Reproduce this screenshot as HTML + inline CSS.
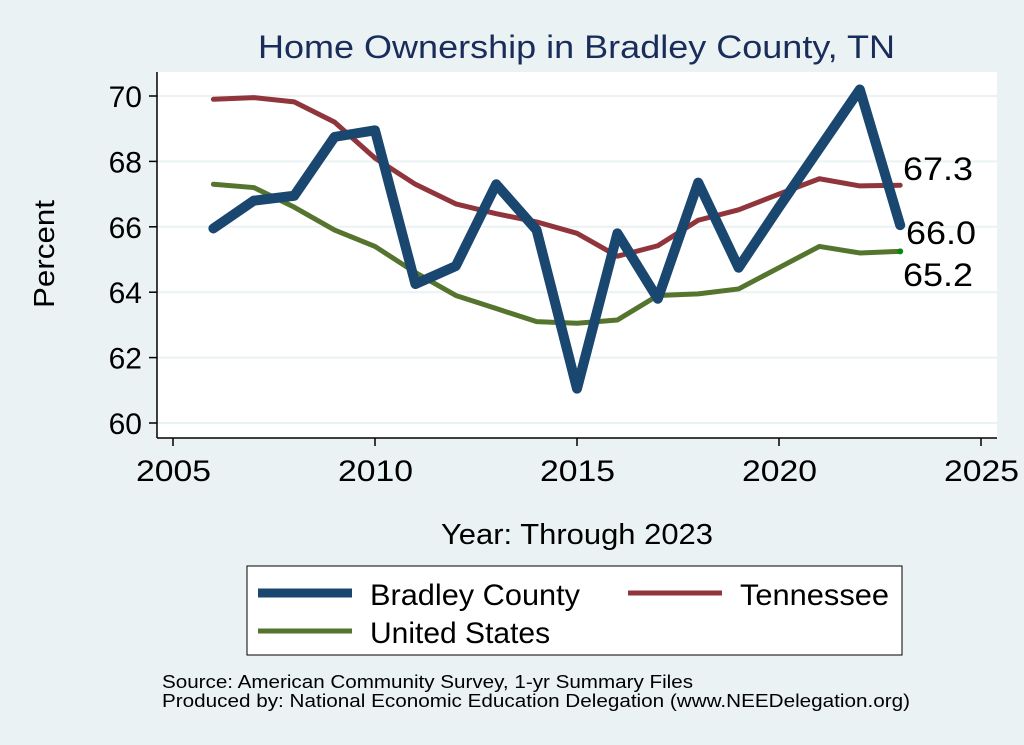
<!DOCTYPE html>
<html><head><meta charset="utf-8"><style>
body{margin:0;background:#eaf2f3;}
svg{display:block;font-family:"Liberation Sans",Arial,sans-serif;}
</style></head><body>
<svg id="s" width="1024" height="745" xmlns="http://www.w3.org/2000/svg">
<rect width="1024" height="745" fill="#eaf2f3"/>
<text x="258" y="58" font-size="32" fill="#1a2d5a" textLength="637" lengthAdjust="spacingAndGlyphs">Home Ownership in Bradley County, TN</text>
<rect x="157" y="72" width="840" height="366" fill="#fff"/>
<g id="grid"></g>
<g id="series"></g>
<line x1="157" y1="72" x2="157" y2="438" stroke="#000" stroke-width="1.5"/>
<line x1="157" y1="438" x2="997" y2="438" stroke="#000" stroke-width="1.5"/>
<text x="903" y="180" font-size="32" textLength="70" lengthAdjust="spacingAndGlyphs">67.3</text>
<text x="906" y="244" font-size="32" textLength="70" lengthAdjust="spacingAndGlyphs">66.0</text>
<text x="903" y="286" font-size="32" textLength="70" lengthAdjust="spacingAndGlyphs">65.2</text>
<text transform="translate(54,254) rotate(-90)" text-anchor="middle" font-size="29" textLength="108" lengthAdjust="spacingAndGlyphs">Percent</text>
<text x="441" y="544" font-size="29" textLength="272" lengthAdjust="spacingAndGlyphs">Year: Through 2023</text>
<rect x="247" y="566" width="655" height="89" fill="#fff" stroke="#000" stroke-width="1"/>
<line x1="258" y1="593" x2="352" y2="593" stroke="#1a476f" stroke-width="9"/>
<line x1="628" y1="593" x2="722" y2="593" stroke="#90353b" stroke-width="5"/>
<line x1="258" y1="631" x2="352" y2="631" stroke="#55752f" stroke-width="5"/>
<text x="370" y="605" font-size="30" textLength="210" lengthAdjust="spacingAndGlyphs">Bradley County</text>
<text x="740" y="605" font-size="30" textLength="149" lengthAdjust="spacingAndGlyphs">Tennessee</text>
<text x="370" y="643" font-size="30">United States</text>
<text x="162" y="688" font-size="18" textLength="531" lengthAdjust="spacingAndGlyphs">Source: American Community Survey, 1-yr Summary Files</text>
<text x="162" y="707" font-size="18" textLength="748" lengthAdjust="spacingAndGlyphs">Produced by: National Economic Education Delegation (www.NEEDelegation.org)</text>
</svg>
<script>
var NS="http://www.w3.org/2000/svg";
function X(y){return 173+(y-2005)*40.4;}
function Y(v){return 96+(70-v)*32.7;}
function el(t,a,p){var e=document.createElementNS(NS,t);for(var k in a)e.setAttribute(k,a[k]);p.appendChild(e);return e;}
var g=document.getElementById("grid"),s=document.getElementById("series"),svg=document.getElementById("s");
for(var v=60;v<=70;v+=2){var y=Y(v);
el("line",{x1:157,x2:997,y1:y,y2:y,stroke:"#eaf2f3","stroke-width":2},g);
el("line",{x1:149,x2:157,y1:y,y2:y,stroke:"#000","stroke-width":1.5},svg);
var t=el("text",{x:142,y:y+11,"text-anchor":"end","font-size":30},svg);t.textContent=v;}
for(var yr=2005;yr<=2025;yr+=5){var x=X(yr);
el("line",{x1:x,x2:x,y1:438,y2:446,stroke:"#000","stroke-width":1.5},svg);
var t=el("text",{x:x-37,y:481,"font-size":30,textLength:75,lengthAdjust:"spacingAndGlyphs"},svg);t.textContent=yr;}
var us=[67.3,67.2,66.6,65.9,65.4,64.6,63.9,63.5,63.1,63.05,63.15,63.9,63.95,64.1,64.75,65.4,65.2,65.25];
var tn=[69.9,69.95,69.82,69.2,68.1,67.3,66.7,66.4,66.15,65.8,65.1,65.42,66.2,66.52,67.0,67.47,67.25,67.27];
var br=[65.95,66.8,66.95,68.75,68.95,64.25,64.8,67.3,65.9,61.05,65.8,63.8,67.35,64.75,66.6,68.4,70.2,66.05];
function line(d,c,w){var p=d.map(function(v,i){return X(2006+i)+","+Y(v)}).join(" ");
el("polyline",{points:p,fill:"none",stroke:c,"stroke-width":w,"stroke-linejoin":"round","stroke-linecap":"round"},s);}
line(us,"#55752f",5);line(tn,"#90353b",5);line(br,"#1a476f",10);
el("circle",{cx:X(2023),cy:Y(65.25),r:3,fill:"#0a8a0a"},s);
</script>
</body></html>
